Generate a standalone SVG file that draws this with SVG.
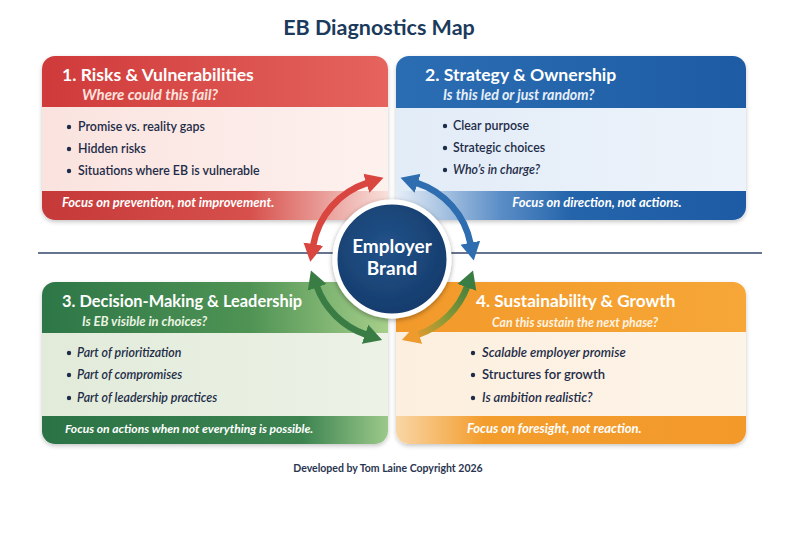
<svg xmlns="http://www.w3.org/2000/svg" width="800" height="533" viewBox="0 0 800 533">
<defs>
<style>
text{font-family:Lato,"Open Sans","Liberation Sans",sans-serif}
.ttl{font-size:21.5px;font-weight:700;fill:#1b3a5c}
.h{font-size:17.6px;font-weight:700;fill:#fff}
.sub{font-weight:700;font-style:italic}
.b{font-size:12.4px;font-weight:600;fill:#1e2c48}
.bi{font-style:italic}
.f{font-size:13px;font-weight:700;font-style:italic;fill:#fff}
.dot{fill:#1e2c48}
.arc{fill:none;stroke-width:6.5}
.credit{font-size:10.5px;font-weight:700;fill:#2a3550}
</style>
<filter id="sh" x="-5%" y="-5%" width="110%" height="115%"><feDropShadow dx="0" dy="2" stdDeviation="2" flood-color="#000" flood-opacity="0.22"/></filter>
<filter id="csh" x="-20%" y="-20%" width="140%" height="140%"><feDropShadow dx="0" dy="1.5" stdDeviation="2.5" flood-color="#000" flood-opacity="0.35"/></filter>
<linearGradient id="rH"><stop offset="0" stop-color="#cf3a3a"/><stop offset="1" stop-color="#e5645d"/></linearGradient>
<linearGradient id="rB"><stop offset="0" stop-color="#fae3df"/><stop offset="1" stop-color="#fdf1ee"/></linearGradient>
<linearGradient id="rF"><stop offset="0" stop-color="#c53939"/><stop offset="0.6" stop-color="#d7504c"/><stop offset="1" stop-color="#f9e0db"/></linearGradient>
<linearGradient id="bH"><stop offset="0" stop-color="#2b6db3"/><stop offset="1" stop-color="#1d5ca4"/></linearGradient>
<linearGradient id="bB"><stop offset="0" stop-color="#e2ecf7"/><stop offset="1" stop-color="#edf3fa"/></linearGradient>
<linearGradient id="bF"><stop offset="0" stop-color="#e6eef8"/><stop offset="0.3" stop-color="#5a8dc6"/><stop offset="0.5" stop-color="#2464ab"/><stop offset="1" stop-color="#1d5ca4"/></linearGradient>
<linearGradient id="gH"><stop offset="0" stop-color="#2d7647"/><stop offset="0.6" stop-color="#4f9354"/><stop offset="1" stop-color="#a6cf8a"/></linearGradient>
<linearGradient id="gB"><stop offset="0" stop-color="#e2ebda"/><stop offset="1" stop-color="#ecf2e6"/></linearGradient>
<linearGradient id="gF"><stop offset="0" stop-color="#2b7345"/><stop offset="0.75" stop-color="#3c8350"/><stop offset="1" stop-color="#9cc98a"/></linearGradient>
<linearGradient id="oH"><stop offset="0" stop-color="#f2992a"/><stop offset="1" stop-color="#f6a737"/></linearGradient>
<linearGradient id="oB"><stop offset="0" stop-color="#fcefdf"/><stop offset="1" stop-color="#fdf4e8"/></linearGradient>
<linearGradient id="oF"><stop offset="0" stop-color="#f9d6a6"/><stop offset="0.25" stop-color="#f39d2d"/><stop offset="1" stop-color="#f2992a"/></linearGradient>
<radialGradient id="cG" cx="0.45" cy="0.4" r="0.65"><stop offset="0" stop-color="#22528a"/><stop offset="1" stop-color="#143a69"/></radialGradient>
<linearGradient id="ogArc" gradientUnits="userSpaceOnUse" x1="470" y1="280" x2="410" y2="336"><stop offset="0" stop-color="#3d7d3f"/><stop offset="0.55" stop-color="#8c9a36"/><stop offset="1" stop-color="#ee9a2d"/></linearGradient>
<marker id="mR" markerUnits="userSpaceOnUse" markerWidth="22" markerHeight="22" viewBox="0 0 22 22" refX="1" refY="11" orient="auto-start-reverse"><path d="M0,1 L18,11 L0,21 Z" fill="#d9453f"/></marker>
<marker id="mB" markerUnits="userSpaceOnUse" markerWidth="22" markerHeight="22" viewBox="0 0 22 22" refX="1" refY="11" orient="auto-start-reverse"><path d="M0,1 L18,11 L0,21 Z" fill="#2e6db0"/></marker>
<marker id="mG" markerUnits="userSpaceOnUse" markerWidth="22" markerHeight="22" viewBox="0 0 22 22" refX="1" refY="11" orient="auto-start-reverse"><path d="M0,1 L18,11 L0,21 Z" fill="#3a7d44"/></marker>
<marker id="mO" markerUnits="userSpaceOnUse" markerWidth="22" markerHeight="22" viewBox="0 0 22 22" refX="1" refY="11" orient="auto-start-reverse"><path d="M0,1 L18,11 L0,21 Z" fill="#ee9a2d"/></marker>
<clipPath id="c1"><rect x="42" y="56" width="346" height="164" rx="13"/></clipPath>
<clipPath id="c2"><rect x="396" y="56" width="350" height="164" rx="13"/></clipPath>
<clipPath id="c3"><rect x="42" y="282" width="346" height="162" rx="13"/></clipPath>
<clipPath id="c4"><rect x="396" y="282" width="350" height="162" rx="13"/></clipPath>
</defs>
<rect width="800" height="533" fill="#ffffff"/>
<g id="title"><text class="ttl" x="379" y="35" text-anchor="middle">EB Diagnostics Map</text></g>
<g id="divider"><line x1="38" y1="253" x2="762" y2="253" stroke="#34466a" stroke-width="1.5"/></g>

<g id="panel-risks">
<rect x="42" y="56" width="346" height="164" rx="13" fill="#fff" filter="url(#sh)"/>
<g clip-path="url(#c1)">
<rect x="42" y="56" width="346" height="51" fill="url(#rH)"/>
<rect x="42" y="107" width="346" height="84" fill="url(#rB)"/>
<rect x="42" y="191" width="346" height="29" fill="url(#rF)"/>
</g>
<text class="h" x="62" y="81">1. Risks &amp; Vulnerabilities</text>
<text class="sub" x="82" y="100" font-size="15" fill="#fde3df">Where could this fail?</text>
<circle class="dot" cx="69" cy="127" r="2.2"/><text class="b" x="78" y="131">Promise vs. reality gaps</text>
<circle class="dot" cx="69" cy="149" r="2.2"/><text class="b" x="78" y="153">Hidden risks</text>
<circle class="dot" cx="69" cy="171" r="2.2"/><text class="b" x="78" y="175">Situations where EB is vulnerable</text>
<text class="f" x="62" y="207">Focus on prevention, not improvement.</text>
</g>

<g id="panel-strategy">
<rect x="396" y="56" width="350" height="164" rx="13" fill="#fff" filter="url(#sh)"/>
<g clip-path="url(#c2)">
<rect x="396" y="56" width="350" height="52" fill="url(#bH)"/>
<rect x="396" y="108" width="350" height="83" fill="url(#bB)"/>
<rect x="396" y="191" width="350" height="29" fill="url(#bF)"/>
</g>
<text class="h" x="425" y="81">2. Strategy &amp; Ownership</text>
<text class="sub" x="443" y="100" font-size="14.2" fill="#e6effa">Is this led or just random?</text>
<circle class="dot" cx="445" cy="126" r="2.2"/><text class="b" x="453" y="130">Clear purpose</text>
<circle class="dot" cx="445" cy="148" r="2.2"/><text class="b" x="453" y="152">Strategic choices</text>
<circle class="dot" cx="445" cy="170" r="2.2"/><text class="b bi" x="453" y="174">Who’s in charge?</text>
<text class="f" x="597" y="207" text-anchor="middle">Focus on direction, not actions.</text>
</g>

<g id="panel-decision">
<rect x="42" y="282" width="346" height="162" rx="13" fill="#fff" filter="url(#sh)"/>
<g clip-path="url(#c3)">
<rect x="42" y="282" width="346" height="51" fill="url(#gH)"/>
<rect x="42" y="333" width="346" height="83" fill="url(#gB)"/>
<rect x="42" y="416" width="346" height="28" fill="url(#gF)"/>
</g>
<text class="h" x="62" y="307" style="font-size:16.4px">3. Decision-Making &amp; Leadership</text>
<text class="sub" x="82" y="326" font-size="13" fill="#eaf3e2">Is EB visible in choices?</text>
<circle class="dot" cx="69" cy="353" r="2.2"/><text class="b bi" x="77" y="357">Part of prioritization</text>
<circle class="dot" cx="69" cy="375" r="2.2"/><text class="b bi" x="77" y="379">Part of compromises</text>
<circle class="dot" cx="69" cy="398" r="2.2"/><text class="b bi" x="77" y="402">Part of leadership practices</text>
<text class="f" x="65" y="433" style="font-size:12.1px">Focus on actions when not everything is possible.</text>
</g>

<g id="panel-sustain">
<rect x="396" y="282" width="350" height="162" rx="13" fill="#fff" filter="url(#sh)"/>
<g clip-path="url(#c4)">
<rect x="396" y="282" width="350" height="50" fill="url(#oH)"/>
<rect x="396" y="332" width="350" height="84" fill="url(#oB)"/>
<rect x="396" y="416" width="350" height="28" fill="url(#oF)"/>
</g>
<text class="h" x="476" y="307" style="font-size:17.2px">4. Sustainability &amp; Growth</text>
<text class="sub" x="492" y="327" font-size="12.3" fill="#fff3e2">Can this sustain the next phase?</text>
<circle class="dot" cx="473" cy="353" r="2.2"/><text class="b bi" x="482" y="357" style="font-size:13px">Scalable employer promise</text>
<circle class="dot" cx="473" cy="375" r="2.2"/><text class="b" x="482" y="379" style="font-size:13px">Structures for growth</text>
<circle class="dot" cx="473" cy="398" r="2.2"/><text class="b bi" x="482" y="402" style="font-size:13px">Is ambition realistic?</text>
<text class="f" x="467" y="433">Focus on foresight, not reaction.</text>
</g>

<g id="connectors">
<path class="arc" d="M313.2,245.1 A80,80 0 0 1 367.3,182.9" stroke="#d9453f" marker-start="url(#mR)" marker-end="url(#mR)"/>
<path class="arc" d="M416.7,182.9 A80,80 0 0 1 470.5,243.7" stroke="#2e6db0" marker-start="url(#mB)" marker-end="url(#mB)"/>
<path class="arc" d="M467.2,286.4 A80,80 0 0 1 418.0,334.6" stroke="url(#ogArc)" marker-start="url(#mG)" marker-end="url(#mO)"/>
<path class="arc" d="M366.0,334.6 A80,80 0 0 1 316.8,286.4" stroke="#3a7d44" marker-start="url(#mG)" marker-end="url(#mG)"/>
</g>

<g id="center-node">
<circle cx="392" cy="259" r="57" fill="url(#cG)" stroke="#ffffff" stroke-width="5" filter="url(#csh)"/>
<text x="392" y="253" text-anchor="middle" font-size="19" font-weight="700" fill="#fff">Employer</text>
<text x="392" y="275" text-anchor="middle" font-size="19" font-weight="700" fill="#fff">Brand</text>
</g>

<g id="footer-credit"><text class="credit" x="388" y="472" text-anchor="middle">Developed by Tom Laine Copyright 2026</text></g>
</svg>
